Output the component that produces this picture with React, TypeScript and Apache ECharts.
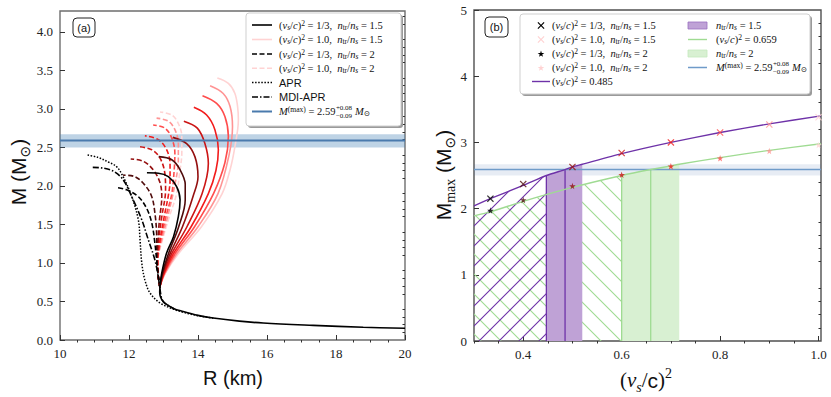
import React, { useEffect, useRef } from 'react';
import * as echarts from 'echarts';

const SERIF = '"Liberation Serif", "DejaVu Serif", serif';
const SANS = '"Liberation Sans", "DejaVu Sans", sans-serif';

// ---------- Panel (a): mass-radius curves, [R (km), M (Msun)] ----------
const speedColors = ['#000000', '#4f0b0b', '#940f0f', '#cc1515', '#f21c1c', '#ff4d4d', '#ff9494', '#ffd3d3'];

const solid_1_3 = [[12.9, 0.7], [12.95, 0.87], [13.09, 1.13], [13.29, 1.34], [13.43, 1.6], [13.48, 1.82], [13.38, 1.99], [13.14, 2.12], [12.85, 2.165], [12.52, 2.17]];
const solid_04 = [[12.9, 0.7], [12.97, 0.87], [13.15, 1.13], [13.44, 1.47], [13.63, 1.82], [13.63, 2.02], [13.48, 2.21], [13.24, 2.34], [12.86, 2.38]];
const solid_05 = [[12.9, 0.7], [12.98, 0.87], [13.2, 1.13], [13.55, 1.47], [13.86, 1.87], [14.0, 2.12], [13.91, 2.38], [13.67, 2.55], [13.27, 2.63]];
const solid_06 = [[12.9, 0.7], [13.0, 0.87], [13.25, 1.13], [13.68, 1.47], [14.12, 1.9], [14.3, 2.29], [14.2, 2.55], [13.98, 2.75], [13.59, 2.84]];
const solid_07 = [[12.9, 0.7], [13.02, 0.87], [13.3, 1.13], [13.8, 1.47], [14.3, 1.9], [14.52, 2.2], [14.59, 2.47], [14.49, 2.73], [14.25, 2.92], [13.88, 3.02]];
const solid_08 = [[12.9, 0.7], [13.03, 0.87], [13.35, 1.13], [13.9, 1.47], [14.45, 1.9], [14.78, 2.3], [14.88, 2.64], [14.78, 2.9], [14.54, 3.07], [14.13, 3.17]];
const solid_09 = [[12.9, 0.7], [13.05, 0.87], [13.4, 1.13], [14.0, 1.47], [14.58, 1.9], [14.9, 2.4], [15.0, 2.77], [14.93, 3.03], [14.73, 3.2], [14.35, 3.3]];
const solid_10 = [[12.9, 0.7], [13.06, 0.87], [13.45, 1.13], [14.1, 1.47], [14.7, 1.9], [14.93, 2.21], [15.07, 2.51], [15.17, 2.86], [15.15, 3.02], [15.07, 3.2], [14.88, 3.33], [14.56, 3.4]];

const dashed_1_3 = [[12.9, 0.68], [12.85, 0.82], [12.8, 1.04], [12.75, 1.26], [12.66, 1.52], [12.51, 1.71], [12.27, 1.86], [11.93, 1.95], [11.64, 1.98]];
const dashed_04 = [[12.9, 0.68], [12.85, 0.82], [12.81, 1.04], [12.8, 1.39], [12.75, 1.65], [12.66, 1.86], [12.46, 2.01], [12.17, 2.12], [11.83, 2.14]];
const dashed_05 = [[12.9, 0.68], [12.85, 0.82], [12.82, 1.04], [12.84, 1.3], [12.88, 1.55], [12.95, 1.86], [12.9, 2.04], [12.7, 2.21], [12.41, 2.32], [12.05, 2.35]];
const dashed_06 = [[12.9, 0.68], [12.85, 0.82], [12.82, 1.04], [12.86, 1.3], [12.95, 1.6], [13.06, 1.95], [13.04, 2.16], [12.9, 2.36], [12.66, 2.47], [12.27, 2.51]];
const dashed_07 = [[12.9, 0.68], [12.85, 0.82], [12.83, 1.04], [12.9, 1.3], [13.02, 1.6], [13.15, 1.9], [13.19, 2.08], [13.19, 2.29], [13.09, 2.47], [12.85, 2.6], [12.46, 2.65]];
const dashed_08 = [[12.9, 0.68], [12.85, 0.82], [12.83, 1.04], [12.92, 1.3], [13.07, 1.6], [13.24, 1.9], [13.31, 2.21], [13.33, 2.42], [13.24, 2.62], [13.04, 2.75], [12.7, 2.79]];
const dashed_09 = [[12.9, 0.68], [12.85, 0.82], [12.84, 1.04], [12.95, 1.3], [13.12, 1.6], [13.3, 1.95], [13.43, 2.34], [13.43, 2.55], [13.33, 2.73], [13.14, 2.84], [12.8, 2.88]];
const dashed_10 = [[12.9, 0.68], [12.85, 0.82], [12.84, 1.04], [12.97, 1.3], [13.17, 1.6], [13.38, 1.9], [13.48, 2.21], [13.53, 2.42], [13.53, 2.64], [13.43, 2.81], [13.24, 2.92], [12.9, 2.96]];

const aprCurve = [[10.8, 2.4], [11.1, 2.37], [11.4, 2.31], [11.64, 2.25], [11.83, 2.12], [12.08, 1.86], [12.27, 1.56], [12.32, 1.3], [12.37, 1.0], [12.46, 0.78], [12.61, 0.61], [12.9, 0.48], [13.29, 0.4], [13.57, 0.36], [14.0, 0.315], [14.5, 0.28]];
const mdiAprCurve = [[10.95, 2.24], [11.26, 2.23], [11.55, 2.19], [11.83, 2.08], [12.12, 1.82], [12.37, 1.56], [12.56, 1.3], [12.75, 1.04], [12.85, 0.82], [12.9, 0.65], [12.99, 0.5], [13.29, 0.41]];
const crustTail = [[12.9, 0.7], [12.89, 0.62], [12.99, 0.5], [13.29, 0.41], [13.57, 0.37], [14.0, 0.32], [14.44, 0.285], [15.2, 0.245], [15.89, 0.22], [17.34, 0.19], [18.79, 0.165], [20.0, 0.152]];

const solidCurves = [solid_1_3, solid_04, solid_05, solid_06, solid_07, solid_08, solid_09, solid_10];
const dashedCurves = [dashed_1_3, dashed_04, dashed_05, dashed_06, dashed_07, dashed_08, dashed_09, dashed_10];

const mMaxObs = 2.59;
const mMaxLow = 2.5;
const mMaxHigh = 2.67;

// ---------- Panel (b): maximum mass vs sound speed ----------
const soundSpeeds = [1 / 3, 0.4, 0.5, 0.6, 0.7, 0.8, 0.9, 1.0];
const mmaxTr15 = [2.15, 2.37, 2.63, 2.84, 3.0, 3.15, 3.27, 3.38];
const mmaxTr2 = [1.97, 2.13, 2.34, 2.51, 2.64, 2.76, 2.87, 2.96];

const purpleFitX = [0.3, 0.333, 0.4, 0.447, 0.485, 0.5, 0.52, 0.6, 0.7, 0.8, 0.9, 1.005];
const purpleFitY = [2.04, 2.15, 2.35, 2.5, 2.59, 2.63, 2.67, 2.83, 3.0, 3.15, 3.28, 3.4];
const greenFitX = [0.3, 0.333, 0.4, 0.5, 0.6, 0.659, 0.7, 0.717, 0.8, 0.9, 1.005];
const greenFitY = [1.89, 1.95, 2.11, 2.32, 2.5, 2.59, 2.645, 2.67, 2.77, 2.88, 2.98];

const tr15Range = [0.447, 0.52];
const tr15Center = 0.485;
const tr2Range = [0.6, 0.717];
const tr2Center = 0.659;

// tick labels
const aXTicks = [10, 12, 14, 16, 18, 20];
const aYTicks = [0, 0.5, 1.0, 1.5, 2.0, 2.5, 3.0, 3.5, 4.0];
const bXTicks = [0.4, 0.6, 0.8, 1.0];
const bYTicks = [0, 1, 2, 3, 4, 5];

const PURPLE = '#6e32a8';
const PURPLE_FILL = '#bfa2d6';
const GREEN = '#9fdb92';
const GREEN_FILL = '#d8f0d2';
const BLUE = '#4a7aad';

const X_PATH = 'path://M0,1.2L1.2,0L5,3.8L8.8,0L10,1.2L6.2,5L10,8.8L8.8,10L5,6.2L1.2,10L0,8.8L3.8,5Z';
const STAR_PATH = 'path://M50,0L61,35L98,35L68,57L79,91L50,70L21,91L32,57L2,35L39,35Z';

function minorsBetween(min: number, max: number, step: number, majors: number[]) {
  const out: number[] = [];
  const n = Math.round((max - min) / step);
  for (let k = 0; k <= n; k++) {
    const v = +(min + k * step).toFixed(6);
    if (v > max + 1e-9) break;
    if (!majors.some((m) => Math.abs(m - v) < 1e-6)) out.push(v);
  }
  return out;
}

function axisPair(gridIndex: number, min: number, max: number, majors: number[], minors: number[], fmt: (v: number) => string) {
  const common = { type: 'value', gridIndex, min, max, splitLine: { show: false }, axisLine: { show: false } };
  return [
    {
      ...common,
      axisTick: { show: true, inside: true, length: 5, customValues: majors, lineStyle: { color: '#333', width: 1 } },
      axisLabel: { show: true, customValues: majors, formatter: fmt, fontFamily: SERIF, fontSize: 13, color: '#222', margin: 7 },
    },
    {
      ...common,
      axisTick: { show: true, inside: true, length: 2.5, customValues: minors, lineStyle: { color: '#333', width: 1 } },
      axisLabel: { show: false },
    },
  ];
}

function makeHatch(color: string, dir: number) {
  const s = 20;
  const c = document.createElement('canvas');
  c.width = s;
  c.height = s;
  const g = c.getContext('2d')!;
  g.strokeStyle = color;
  g.lineWidth = 1.1;
  g.beginPath();
  if (dir > 0) {
    g.moveTo(-2, s + 2); g.lineTo(s + 2, -2);
    g.moveTo(-2, 2); g.lineTo(2, -2);
    g.moveTo(s - 2, s + 2); g.lineTo(s + 2, s - 2);
  } else {
    g.moveTo(-2, -2); g.lineTo(s + 2, s + 2);
    g.moveTo(s - 2, -2); g.lineTo(s + 2, 2);
    g.moveTo(-2, s - 2); g.lineTo(2, s + 2);
  }
  g.stroke();
  return { image: c.toDataURL(), repeat: 'repeat', imageWidth: s, imageHeight: s };
}

function richFor(size: number) {
  const small = Math.round(size * 0.72 * 10) / 10;
  return {
    n: { fill: '#111', fontSize: size, fontFamily: SERIF, lineHeight: 12 },
    i: { fill: '#111', fontSize: size, fontFamily: SERIF, fontStyle: 'italic', lineHeight: 12 },
    sb: { fill: '#111', fontSize: small, fontFamily: SERIF, fontStyle: 'italic', lineHeight: 6, verticalAlign: 'bottom' },
    sbu: { fill: '#111', fontSize: small, fontFamily: SERIF, lineHeight: 6, verticalAlign: 'bottom' },
    sp: { fill: '#111', fontSize: small, fontFamily: SERIF, lineHeight: 6, verticalAlign: 'top' },
  };
}

const VS = '{n|(}{i|v}{sb|s}{n|/}{i|c}{n|)}{sp|2}';
const NTR = '{i|n}{sbu|tr}{n|/}{i|n}{sb|s}';

function polyPts(base: number[][], cx: number, cy: number, size: number, span: number) {
  return base.map(([px, py]) => [cx + ((px - span / 2) * size) / span, cy + ((py - span / 2) * size) / span]);
}
const X_BASE = [[0, 1.2], [1.2, 0], [5, 3.8], [8.8, 0], [10, 1.2], [6.2, 5], [10, 8.8], [8.8, 10], [5, 6.2], [1.2, 10], [0, 8.8], [3.8, 5]];
const STAR_BASE = [[50, 0], [61, 35], [98, 35], [68, 57], [79, 91], [50, 70], [21, 91], [32, 57], [2, 35], [39, 35]];

export default function App() {
  const ref = useRef<HTMLDivElement>(null);

  useEffect(() => {
    document.body.style.margin = '0';
    if (!ref.current) return;
    const chart = echarts.init(ref.current, null, { renderer: 'svg' });

    const mctx = document.createElement('canvas').getContext('2d')!;
    const tw = (t: string, size: number, italic = false) => {
      mctx.font = `${italic ? 'italic ' : ''}${size}px ${SERIF}`;
      return mctx.measureText(t).width;
    };

    const purpleHatch = makeHatch(PURPLE, 1);
    const greenHatch = makeHatch(GREEN, -1);

    const purpleFit = purpleFitX.map((x, i) => [x, purpleFitY[i]]);
    const greenFit = greenFitX.map((x, i) => [x, greenFitY[i]]);
    const eps = 1e-9;
    const purpleHatchPts = purpleFit.filter((p) => p[0] <= tr15Range[0] + eps);
    const purpleBandPts = purpleFit.filter((p) => p[0] >= tr15Range[0] - eps && p[0] <= tr15Range[1] + eps);
    const greenHatchPts = greenFit.filter((p) => p[0] <= tr2Range[0] + eps);
    const greenBandPts = greenFit.filter((p) => p[0] >= tr2Range[0] - eps && p[0] <= tr2Range[1] + eps);
    const yAt = (arr: number[][], x: number) => (arr.find((p) => Math.abs(p[0] - x) < 1e-6) as number[])[1];

    const aX = axisPair(0, 10, 20, aXTicks, minorsBetween(10, 20, 0.5, aXTicks), (v) => String(Math.round(v)));
    const aY = axisPair(0, 0, 4.27, aYTicks, minorsBetween(0, 4.27, 0.1, aYTicks), (v) => v.toFixed(1));
    const bX = axisPair(1, 0.3, 1.005, bXTicks, minorsBetween(0.3, 1.005, 0.05, bXTicks), (v) => v.toFixed(1));
    const bY = axisPair(1, 0, 5, bYTicks, minorsBetween(0, 5, 0.2, bYTicks), (v) => String(Math.round(v)));

    const series: any[] = [];
    // panel (a) curves, lightest first so darker ones lie on top
    for (let i = 7; i >= 0; i--) {
      series.push({
        type: 'line', xAxisIndex: 0, yAxisIndex: 0, data: dashedCurves[i], symbol: 'none', smooth: 0.35,
        lineStyle: { color: speedColors[i], width: 1.6, type: [5, 2.5] }, z: 2,
      });
    }
    for (let i = 7; i >= 0; i--) {
      series.push({
        type: 'line', xAxisIndex: 0, yAxisIndex: 0, data: solidCurves[i], symbol: 'none', smooth: 0.35,
        lineStyle: { color: speedColors[i], width: 1.6 }, z: 2,
      });
    }
    series.push({
      type: 'line', xAxisIndex: 0, yAxisIndex: 0, data: aprCurve, symbol: 'none', smooth: 0.35,
      lineStyle: { color: '#000', width: 1.5, type: [1.5, 1.6] }, z: 2,
    });
    series.push({
      type: 'line', xAxisIndex: 0, yAxisIndex: 0, data: mdiAprCurve, symbol: 'none', smooth: 0.35,
      lineStyle: { color: '#000', width: 1.6, type: [6, 2, 1.5, 2] }, z: 2,
    });
    series.push({
      type: 'line', xAxisIndex: 0, yAxisIndex: 0, data: crustTail, symbol: 'none', smooth: 0.35,
      lineStyle: { color: '#000', width: 1.6 }, z: 2,
    });
    series.push({
      type: 'line', xAxisIndex: 0, yAxisIndex: 0, data: [[10, mMaxObs], [20, mMaxObs]], symbol: 'none',
      lineStyle: { color: BLUE, width: 2 }, z: 3,
      markArea: { silent: true, itemStyle: { color: 'rgba(70,130,180,0.35)' }, data: [[{ yAxis: mMaxLow }, { yAxis: mMaxHigh }]] },
    });

    // panel (b)
    series.push({
      type: 'line', xAxisIndex: 2, yAxisIndex: 2, data: greenHatchPts, symbol: 'none',
      lineStyle: { opacity: 0 }, areaStyle: { color: greenHatch, opacity: 1 }, z: 2,
    });
    series.push({
      type: 'line', xAxisIndex: 2, yAxisIndex: 2, data: purpleHatchPts, symbol: 'none',
      lineStyle: { opacity: 0 }, areaStyle: { color: purpleHatch, opacity: 1 }, z: 2,
    });
    series.push({
      type: 'line', xAxisIndex: 2, yAxisIndex: 2, data: greenBandPts, symbol: 'none',
      lineStyle: { opacity: 0 }, areaStyle: { color: GREEN_FILL, opacity: 1 }, z: 2,
    });
    series.push({
      type: 'line', xAxisIndex: 2, yAxisIndex: 2, data: purpleBandPts, symbol: 'none',
      lineStyle: { opacity: 0 }, areaStyle: { color: PURPLE_FILL, opacity: 1 }, z: 2,
    });
    const vlines: [number, number[][], string][] = [
      [tr15Range[0], purpleFit, PURPLE],
      [tr15Center, purpleFit, PURPLE],
      [tr2Range[0], greenFit, GREEN],
      [tr2Center, greenFit, GREEN],
    ];
    vlines.forEach(([x, arr, col]) => {
      series.push({
        type: 'line', xAxisIndex: 2, yAxisIndex: 2, data: [[x, 0], [x, yAt(arr, x)]], symbol: 'none',
        lineStyle: { color: col, width: 1.3 }, z: 3,
      });
    });
    series.push({
      type: 'line', xAxisIndex: 2, yAxisIndex: 2, data: [[0.3, mMaxObs], [1.005, mMaxObs]], symbol: 'none',
      lineStyle: { color: '#6f9bc9', width: 1.5 }, z: 3,
      markArea: { silent: true, itemStyle: { color: 'rgba(70,110,170,0.13)' }, data: [[{ yAxis: mMaxLow }, { yAxis: mMaxHigh }]] },
    });
    series.push({
      type: 'line', xAxisIndex: 2, yAxisIndex: 2, data: greenFit, symbol: 'none', smooth: 0.2,
      lineStyle: { color: GREEN, width: 1.4 }, z: 4,
    });
    series.push({
      type: 'line', xAxisIndex: 2, yAxisIndex: 2, data: purpleFit, symbol: 'none', smooth: 0.2,
      lineStyle: { color: PURPLE, width: 1.4 }, z: 4,
    });
    series.push({
      type: 'scatter', xAxisIndex: 2, yAxisIndex: 2, symbol: X_PATH, symbolSize: 7, z: 5,
      data: soundSpeeds.map((s, i) => ({ value: [s, mmaxTr15[i]], itemStyle: { color: speedColors[i] } })),
    });
    series.push({
      type: 'scatter', xAxisIndex: 2, yAxisIndex: 2, symbol: STAR_PATH, symbolSize: 6.5, z: 5,
      data: soundSpeeds.map((s, i) => ({ value: [s, mmaxTr2[i]], itemStyle: { color: speedColors[i] } })),
    });

    // ---------- graphic: legends, labels, axis titles ----------
    const G: any[] = [];
    const rich11 = richFor(10.5);
    const addText = (x: number, y: number, text: string) =>
      G.push({ type: 'text', x, y, z: 102, style: { text, rich: rich11, verticalAlign: 'middle', align: 'left' } });
    const addLine = (x1: number, x2: number, y: number, color: string, dash: any, width = 1.6) =>
      G.push({ type: 'line', z: 102, shape: { x1, y1: y, x2, y2: y }, style: { stroke: color, lineWidth: width, lineDash: dash } });
    const addMmax = (x: number, y: number) => {
      addText(x, y, '{i|M}{sp|(max)}{n| = 2.59}');
      const w1 = tw('M', 10.5, true) + tw('(max)', 7.6) + tw(' = 2.59', 10.5);
      const x2 = x + w1 + 0.5;
      G.push({ type: 'text', x: x2, y: y - 3.6, z: 102, style: { text: '+0.08', fill: '#111', fontSize: 7, fontFamily: SERIF, verticalAlign: 'middle', lineHeight: 7 } });
      G.push({ type: 'text', x: x2, y: y + 4.0, z: 102, style: { text: '\u22120.09', fill: '#111', fontSize: 7, fontFamily: SERIF, verticalAlign: 'middle', lineHeight: 7 } });
      const w2 = tw('\u22120.09', 7);
      addText(x2 + w2 + 3, y, '{i|M}{sbu|\u2299}');
    };

    // legend (a)
    G.push({ type: 'rect', z: 100, shape: { x: 248, y: 15, width: 155, height: 113, r: 3 }, style: { fill: '#9a9a9a' } });
    G.push({ type: 'rect', z: 101, shape: { x: 246, y: 13, width: 155, height: 113, r: 3 }, style: { fill: '#fff', stroke: '#cfcfcf', lineWidth: 1 } });
    const la = [25, 39.5, 54, 68.3, 82.5, 97, 111.5];
    addLine(252, 272, la[0], speedColors[0], null);
    addText(279, la[0], `${VS}{n| = 1/3,  }${NTR}{n| = 1.5}`);
    addLine(252, 272, la[1], speedColors[7], null);
    addText(279, la[1], `${VS}{n| = 1.0,  }${NTR}{n| = 1.5}`);
    addLine(252, 272, la[2], speedColors[0], [5, 2.5]);
    addText(279, la[2], `${VS}{n| = 1/3,  }${NTR}{n| = 2}`);
    addLine(252, 272, la[3], speedColors[7], [5, 2.5]);
    addText(279, la[3], `${VS}{n| = 1.0,  }${NTR}{n| = 2}`);
    addLine(252, 272, la[4], '#000', [1.5, 1.6], 1.5);
    G.push({ type: 'text', x: 279, y: la[4], z: 102, style: { text: 'APR', fill: '#111', fontSize: 11, fontFamily: SANS, verticalAlign: 'middle' } });
    addLine(252, 272, la[5], '#000', [6, 2, 1.5, 2]);
    G.push({ type: 'text', x: 279, y: la[5], z: 102, style: { text: 'MDI-APR', fill: '#111', fontSize: 11, fontFamily: SANS, verticalAlign: 'middle' } });
    addLine(252, 272, la[6], BLUE, null, 2);
    addMmax(279, la[6]);

    // legend (b)
    G.push({ type: 'rect', z: 100, shape: { x: 522, y: 16, width: 290, height: 80, r: 3 }, style: { fill: '#9a9a9a' } });
    G.push({ type: 'rect', z: 101, shape: { x: 520, y: 14, width: 290, height: 80, r: 3 }, style: { fill: '#fff', stroke: '#cfcfcf', lineWidth: 1 } });
    const lb = [25.5, 39.5, 53.5, 67.5, 81.5];
    const addPoly = (base: number[][], span: number, cx: number, cy: number, size: number, color: string) =>
      G.push({ type: 'polygon', z: 102, shape: { points: polyPts(base, cx, cy, size, span) }, style: { fill: color } });
    addPoly(X_BASE, 10, 541, lb[0], 7, speedColors[0]);
    addText(552, lb[0], `${VS}{n| = 1/3,  }${NTR}{n| = 1.5}`);
    addPoly(X_BASE, 10, 541, lb[1], 7, speedColors[7]);
    addText(552, lb[1], `${VS}{n| = 1.0,  }${NTR}{n| = 1.5}`);
    addPoly(STAR_BASE, 100, 541, lb[2] + 0.5, 7, speedColors[0]);
    addText(552, lb[2], `${VS}{n| = 1/3,  }${NTR}{n| = 2}`);
    addPoly(STAR_BASE, 100, 541, lb[3] + 0.5, 7, speedColors[7]);
    addText(552, lb[3], `${VS}{n| = 1.0,  }${NTR}{n| = 2}`);
    addLine(532, 550, lb[4], PURPLE, null, 1.4);
    addText(552, lb[4], `${VS}{n| = 0.485}`);
    G.push({ type: 'rect', z: 102, shape: { x: 688, y: lb[0] - 3.5, width: 19, height: 7 }, style: { fill: PURPLE_FILL, stroke: '#9a70c0', lineWidth: 0.8 } });
    addText(716, lb[0], `${NTR}{n| = 1.5}`);
    addLine(688, 707, lb[1], GREEN, null, 1.4);
    addText(716, lb[1], `${VS}{n| = 0.659}`);
    G.push({ type: 'rect', z: 102, shape: { x: 688, y: lb[2] - 3.5, width: 19, height: 7 }, style: { fill: GREEN_FILL, stroke: '#c4e8bc', lineWidth: 0.8 } });
    addText(716, lb[2], `${NTR}{n| = 2}`);
    addLine(688, 707, lb[3], '#6f9bc9', null, 1.5);
    addMmax(716, lb[3]);

    // panel labels
    G.push({ type: 'rect', z: 102, shape: { x: 73, y: 18, width: 22, height: 19, r: 4 }, style: { fill: '#fff', stroke: '#222', lineWidth: 1 } });
    G.push({ type: 'text', x: 84, y: 27.5, z: 103, style: { text: '(a)', fill: '#111', fontSize: 11, fontFamily: SANS, align: 'center', verticalAlign: 'middle' } });
    G.push({ type: 'rect', z: 102, shape: { x: 485, y: 17, width: 23, height: 20, r: 4 }, style: { fill: '#fff', stroke: '#222', lineWidth: 1 } });
    G.push({ type: 'text', x: 496.5, y: 27, z: 103, style: { text: '(b)', fill: '#111', fontSize: 11, fontFamily: SANS, align: 'center', verticalAlign: 'middle' } });

    // axis titles
    const titleRich = {
      a: { fill: '#111', fontSize: 21, fontFamily: SANS, lineHeight: 28 },
      s: { fill: '#111', fontSize: 14, fontFamily: SANS, lineHeight: 14, verticalAlign: 'bottom' },
      sm: { fill: '#111', fontSize: 14, fontFamily: SERIF, lineHeight: 14, verticalAlign: 'bottom' },
      p: { fill: '#111', fontSize: 21, fontFamily: SERIF, lineHeight: 28 },
      iv: { fill: '#111', fontSize: 21, fontFamily: SERIF, fontStyle: 'italic', lineHeight: 28 },
      is: { fill: '#111', fontSize: 14, fontFamily: SERIF, fontStyle: 'italic', lineHeight: 14, verticalAlign: 'bottom' },
      sup: { fill: '#111', fontSize: 14, fontFamily: SERIF, lineHeight: 14, verticalAlign: 'top' },
    };
    G.push({ type: 'text', x: 18, y: 172, rotation: Math.PI / 2, z: 103, style: { text: '{a|M (M}{s|\u2299}{a|)}', rich: titleRich, align: 'center', verticalAlign: 'middle' } });
    G.push({ type: 'text', x: 443, y: 175, rotation: Math.PI / 2, z: 103, style: { text: '{a|M}{sm|max}{a| (M}{s|\u2299}{a|)}', rich: titleRich, align: 'center', verticalAlign: 'middle' } });
    G.push({ type: 'text', x: 233, y: 378, z: 103, style: { text: 'R (km)', fill: '#111', fontSize: 20, fontFamily: SANS, align: 'center', verticalAlign: 'middle' } });
    G.push({ type: 'text', x: 646, y: 380, z: 103, style: { text: '{p|(}{iv|v}{is|s}{p|/}{a|c}{p|)}{sup|2}', rich: titleRich, align: 'center', verticalAlign: 'middle' } });

    const option: any = {
      animation: false,
      backgroundColor: '#fff',
      grid: [
        { left: 60, top: 11, width: 345, height: 329, show: true, borderColor: '#6e6e6e', borderWidth: 1.4, backgroundColor: 'transparent' },
        { left: 474, top: 10, width: 347, height: 331, show: true, borderColor: '#505050', borderWidth: 1.4, backgroundColor: 'transparent' },
      ],
      xAxis: [...aX, ...bX],
      yAxis: [...aY, ...bY],
      series,
      graphic: G,
    };
    chart.setOption(option);
    return () => chart.dispose();
  }, []);

  return <div ref={ref} style={{ width: 831, height: 397 }} />;
}
